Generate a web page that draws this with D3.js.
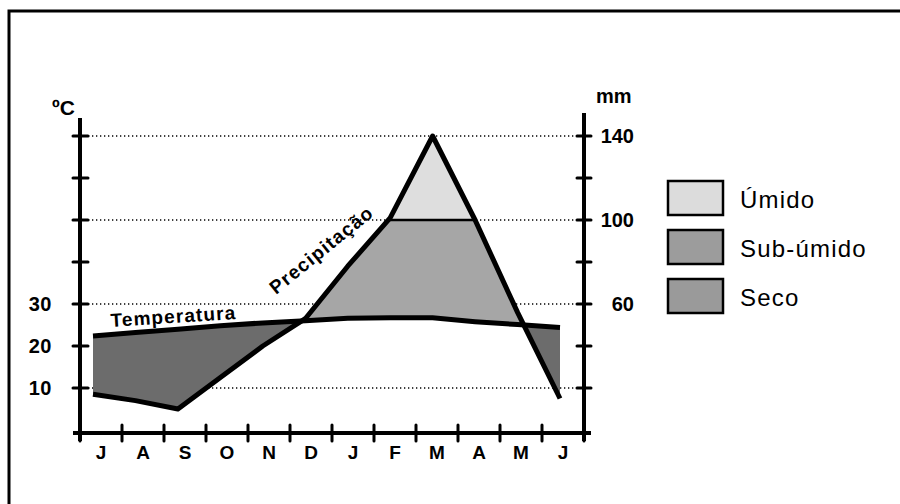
<!DOCTYPE html>
<html><head><meta charset="utf-8">
<script src="https://cdn.jsdelivr.net/npm/d3@7"></script>
<style>
html,body{margin:0;padding:0;background:#fff;}
svg{display:block;font-family:"Liberation Sans",Arial,sans-serif;}
</style></head>
<body><svg id="c" width="900" height="504"></svg>
<script>
// ---- data ----
const monthLabels = ["J","A","S","O","N","D","J","F","M","A","M","J"];
const precipitation = [17, 14, 10, 25, 40, 53, 78, 101, 140, 100, 56, 15]; // mm
const temperature = [22.4, 23.2, 24, 24.8, 25.5, 26, 26.6, 26.7, 26.7, 25.8, 25.1, 24.4]; // °C
const tempTicks = [10,20,30,40,50,60,70];
const tempLabels = [10,20,30];
const mmTicks = [20,40,60,80,100,120,140];
const mmLabels = [60,100,140];
const gridMm = [20,60,100,140];
const legendItems = ["Úmido","Sub-úmido","Seco"];
const legendColors = ["#dcdcdc","#9c9c9c","#9a9a9a"];

const svg = d3.select("#c");
const idx = d3.range(12);
const xBand = d3.scaleBand().domain(idx).range([80,584]);
const xPt = d3.scalePoint().domain(idx).range([93,560]);
const yMm = d3.scaleLinear().domain([0,140]).range([430,136]);
const yT = d3.scaleLinear().domain([0,70]).range([430,136]);

// border (top & left)
svg.append("path").attr("d","M9,504 V11 H900").attr("fill","none").attr("stroke","#000").attr("stroke-width",3);

// grid
svg.append("g").selectAll("line").data(gridMm).join("line")
  .attr("x1",80).attr("x2",584).attr("y1",d=>yMm(d)).attr("y2",d=>yMm(d))
  .attr("stroke","#000").attr("stroke-width",1.3).attr("stroke-dasharray","1.3,2.7");

const defs = svg.append("defs");
const tempLine = d3.line().x((d,i)=>xPt(i)).y(d=>yT(d));
const precLine = d3.line().x((d,i)=>xPt(i)).y(d=>yMm(d));
const belowPrec = d3.area().x((d,i)=>xPt(i)).y0(430).y1(d=>yMm(d));
const abovePrec = d3.area().x((d,i)=>xPt(i)).y0(0).y1(d=>yMm(d));
defs.append("clipPath").attr("id","below").append("path").attr("d",belowPrec(precipitation));
defs.append("clipPath").attr("id","above").append("path").attr("d",abovePrec(precipitation));

// dark (seco): below temperature and above precipitation
svg.append("path").attr("clip-path","url(#above)")
  .attr("d", d3.area().x((d,i)=>xPt(i)).y0(yT(0)).y1(d=>yT(d))(temperature))
  .attr("fill","#6c6c6c");
// medium: above temperature, below 100mm, below precipitation
svg.append("path").attr("clip-path","url(#below)")
  .attr("d", d3.area().x((d,i)=>xPt(i)).y0(d=>yT(d)).y1(yMm(100))(temperature))
  .attr("fill","#a6a6a6");
// light: above 100mm, below precipitation
svg.append("path").attr("clip-path","url(#below)")
  .attr("d", d3.area().x((d,i)=>xPt(i)).y0(yMm(100)).y1(0)(temperature))
  .attr("fill","#dedede");
// line at 100 inside peak
svg.append("line").attr("clip-path","url(#below)")
  .attr("x1",80).attr("x2",584).attr("y1",yMm(100)).attr("y2",yMm(100))
  .attr("stroke","#000").attr("stroke-width",2.5);

// curves
svg.append("path").attr("d",tempLine(temperature)).attr("fill","none").attr("stroke","#000").attr("stroke-width",5);
svg.append("path").attr("d",precLine(precipitation)).attr("fill","none").attr("stroke","#000").attr("stroke-width",5).attr("stroke-linejoin","round");

// axes lines
const ax = svg.append("g").attr("stroke","#000");
ax.append("line").attr("x1",80).attr("x2",80).attr("y1",118).attr("y2",441).attr("stroke-width",4);
ax.append("line").attr("x1",584).attr("x2",584).attr("y1",113).attr("y2",441).attr("stroke-width",4);
ax.append("line").attr("x1",73).attr("x2",591).attr("y1",433).attr("y2",433).attr("stroke-width",4);
// ticks
ax.selectAll(".tl").data(tempTicks).join("line")
  .attr("x1",73).attr("x2",88).attr("y1",d=>yT(d)).attr("y2",d=>yT(d)).attr("stroke-width",3).attr("stroke-linecap","round");
ax.selectAll(".tr").data(mmTicks).join("line").attr("class","tr")
  .attr("x1",577).attr("x2",591).attr("y1",d=>yMm(d)).attr("y2",d=>yMm(d)).attr("stroke-width",3).attr("stroke-linecap","round");
const xTickPos = idx.map(i=>xBand(i)).concat([xBand.range()[1]]);
ax.selectAll(".tx").data(xTickPos).join("line").attr("class","tx")
  .attr("x1",d=>d).attr("x2",d=>d).attr("y1",425).attr("y2",441).attr("stroke-width",3).attr("stroke-linecap","round");

// labels
svg.append("g").selectAll("text").data(tempLabels).join("text")
  .attr("x",52).attr("y",d=>yT(d)+7).attr("text-anchor","end")
  .attr("font-size",20).attr("font-weight","bold").attr("letter-spacing",0.5).text(d=>d);
svg.append("g").selectAll("text").data(mmLabels).join("text")
  .attr("x",634).attr("y",d=>yMm(d)+7).attr("text-anchor","end")
  .attr("font-size",20).attr("font-weight","bold").text(d=>d);
svg.append("g").selectAll("text").data(idx).join("text")
  .attr("x",i=>xBand(i)+xBand.bandwidth()/2).attr("y",459).attr("text-anchor","middle")
  .attr("font-size",19).attr("font-weight","bold").text(i=>monthLabels[i]);
svg.append("text").attr("x",52).attr("y",115).attr("font-size",21).attr("font-weight","bold").text("ºC");
svg.append("text").attr("x",596).attr("y",103).attr("font-size",20).attr("font-weight","bold").text("mm");

svg.append("text").attr("transform","translate(111,327) rotate(-3.7)")
  .attr("font-size",19).attr("font-weight","bold").attr("letter-spacing",1.1).text("Temperatura");
svg.append("text").attr("transform","translate(276,295) rotate(-39)")
  .attr("font-size",19).attr("font-weight","bold").attr("letter-spacing",1.2).text("Precipitação");

// legend
const lg = svg.append("g");
legendItems.forEach((t,i)=>{
  const y0 = 181 + i*49;
  lg.append("rect").attr("x",668).attr("y",y0).attr("width",55).attr("height",34)
    .attr("fill",legendColors[i]).attr("stroke","#000").attr("stroke-width",2.5);
  lg.append("text").attr("x",740).attr("y",y0+27).attr("font-size",24).attr("letter-spacing",1.2)
    .attr("font-weight",500).text(t);
});
</script></body></html>
